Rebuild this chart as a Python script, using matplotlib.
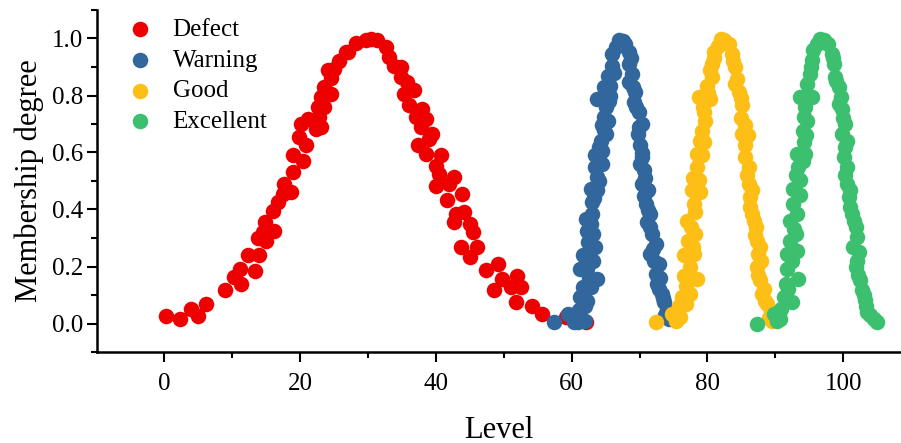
import numpy as np
import matplotlib

matplotlib.use('Agg')
import matplotlib.pyplot as plt
from matplotlib.ticker import MultipleLocator

# (level, membership degree)
defect_pts = [(0.3, 0.026), (2.3, 0.016), (4.0, 0.05), (5.0, 0.028), (6.2, 0.07), (8.9, 0.118),
              (10.3, 0.162), (11.2, 0.19), (11.3, 0.14), (12.3, 0.24), (13.4, 0.184), (14.0, 0.24),
              (13.8, 0.30), (14.5, 0.32), (14.8, 0.355), (15.0, 0.29), (16.2, 0.326), (16.0, 0.396),
              (16.7, 0.426), (17.5, 0.455), (17.7, 0.49), (18.7, 0.46), (18.9, 0.53), (18.9, 0.59),
              (20.4, 0.57), (19.9, 0.654), (20.9, 0.625), (20.1, 0.70), (21.1, 0.718), (22.4, 0.683),
              (23.1, 0.689), (22.8, 0.724), (22.6, 0.76), (23.6, 0.76), (23.1, 0.794), (23.6, 0.83),
              (24.6, 0.806), (24.6, 0.86), (25.0, 0.894), (24.1, 0.888), (25.8, 0.92), (26.8, 0.952),
              (27.0, 0.952), (28.2, 0.983), (29.7, 0.995), (30.5, 1.0), (31.4, 0.995), (32.6, 0.97),
              (33.1, 0.934), (33.9, 0.905), (34.9, 0.9), (34.9, 0.864), (35.8, 0.847), (36.8, 0.818),
              (35.3, 0.806), (36.1, 0.765), (38.0, 0.753), (37.1, 0.724), (38.5, 0.718), (37.8, 0.689),
              (39.5, 0.665), (39.0, 0.648), (37.3, 0.625), (38.5, 0.595), (40.7, 0.59), (40.0, 0.554),
              (40.5, 0.525), (42.7, 0.513), (40.0, 0.484), (42.0, 0.49), (43.9, 0.455), (41.7, 0.432),
              (42.9, 0.385), (44.2, 0.39), (42.7, 0.355), (45.1, 0.35), (45.4, 0.32), (43.7, 0.268),
              (46.1, 0.268), (45.1, 0.233), (47.4, 0.186), (49.1, 0.209), (49.8, 0.157), (48.6, 0.116),
              (52.0, 0.168), (51.0, 0.127), (52.5, 0.127), (51.8, 0.075), (54.2, 0.063), (55.7, 0.034),
              (59.1, 0.022), (62.1, 0.005)]

warning_pts = [(57.4, 0.005), (59.4, 0.034), (60.3, 0.005), (60.8, 0.02), (61.0, 0.005), (61.9, 0.01),
               (61.1, 0.046), (62.0, 0.06), (61.3, 0.092), (62.3, 0.08), (61.6, 0.127), (62.8, 0.127),
               (62.6, 0.16), (63.8, 0.157), (61.3, 0.19), (62.3, 0.19), (61.6, 0.24), (63.1, 0.22),
               (62.4, 0.285), (63.5, 0.268), (62.3, 0.326), (63.1, 0.315), (62.9, 0.35), (62.1, 0.367),
               (63.0, 0.385), (63.0, 0.426), (63.3, 0.44), (62.8, 0.472), (63.8, 0.467), (64.0, 0.50),
               (63.8, 0.513), (63.5, 0.548), (64.5, 0.56), (63.5, 0.59), (64.5, 0.607), (64.0, 0.62),
               (64.3, 0.642), (65.0, 0.665), (64.8, 0.68), (64.5, 0.695), (65.3, 0.712), (64.8, 0.724),
               (65.0, 0.76), (63.8, 0.788), (65.5, 0.782), (65.6, 0.80), (64.8, 0.83), (65.7, 0.835),
               (65.3, 0.87), (66.3, 0.88), (66.0, 0.905), (66.0, 0.946), (66.5, 0.97), (67.0, 0.993),
               (67.5, 0.99), (67.9, 0.98), (68.4, 0.952), (68.8, 0.93), (68.4, 0.911), (68.9, 0.876),
               (68.4, 0.847), (69.0, 0.83), (69.4, 0.812), (69.2, 0.776), (69.5, 0.76), (69.9, 0.741),
               (70.4, 0.70), (69.9, 0.69), (69.7, 0.665), (70.1, 0.625), (70.3, 0.60), (70.4, 0.584),
               (70.0, 0.56), (70.6, 0.537), (70.8, 0.51), (70.4, 0.49), (71.2, 0.47), (70.6, 0.449),
               (70.9, 0.42), (71.3, 0.40), (71.6, 0.385), (71.1, 0.355), (71.5, 0.34), (71.9, 0.315),
               (72.4, 0.28), (72.0, 0.26), (71.6, 0.245), (72.1, 0.22), (72.8, 0.209), (72.4, 0.174),
               (73.0, 0.16), (72.6, 0.139), (72.9, 0.12), (73.3, 0.104), (73.4, 0.09), (73.6, 0.075),
               (74.1, 0.046), (73.8, 0.03), (74.3, 0.016)]

good_pts = [(72.4, 0.005), (74.8, 0.034), (75.3, 0.01), (76.0, 0.022), (75.8, 0.06), (76.8, 0.069),
            (76.3, 0.092), (77.5, 0.104), (76.9, 0.13), (78.5, 0.157), (76.5, 0.168), (77.5, 0.198),
            (76.5, 0.24), (78.0, 0.245), (77.8, 0.27), (77.2, 0.29), (78.2, 0.315), (77.6, 0.34),
            (77.0, 0.361), (78.2, 0.39), (78.0, 0.42), (78.9, 0.46), (77.7, 0.467), (78.7, 0.502),
            (77.9, 0.51), (78.5, 0.548), (79.2, 0.59), (78.5, 0.595), (79.5, 0.636), (78.9, 0.64),
            (79.2, 0.677), (79.7, 0.712), (79.5, 0.741), (79.3, 0.76), (78.7, 0.794), (80.4, 0.788),
            (80.1, 0.81), (79.9, 0.835), (80.7, 0.864), (80.3, 0.89), (80.7, 0.911), (80.9, 0.93),
            (81.0, 0.952), (81.5, 0.975), (82.0, 0.998), (82.5, 0.995), (83.1, 0.98), (83.6, 0.946),
            (83.8, 0.92), (84.1, 0.9), (84.4, 0.859), (84.0, 0.84), (84.6, 0.812), (84.9, 0.79),
            (85.1, 0.765), (85.0, 0.72), (85.6, 0.695), (85.1, 0.665), (85.9, 0.66), (85.6, 0.625),
            (85.6, 0.584), (86.1, 0.548), (85.8, 0.52), (86.1, 0.49), (86.5, 0.47), (86.3, 0.443),
            (86.2, 0.41), (86.6, 0.385), (86.8, 0.36), (87.1, 0.338), (87.0, 0.31), (87.3, 0.29),
            (87.8, 0.27), (87.5, 0.245), (87.9, 0.22), (87.3, 0.198), (87.5, 0.17), (87.8, 0.151),
            (88.3, 0.12), (88.0, 0.104), (88.5, 0.08), (88.8, 0.069), (89.3, 0.04), (89.0, 0.02),
            (89.5, 0.01)]

excellent_pts = [(87.3, 0.0), (89.8, 0.034), (90.2, 0.01), (90.7, 0.016), (90.9, 0.05), (91.2, 0.092),
                 (92.5, 0.075), (91.9, 0.12), (91.5, 0.139), (93.4, 0.157), (91.7, 0.19), (92.5, 0.22),
                 (91.7, 0.245), (93.2, 0.256), (92.1, 0.29), (93.0, 0.315), (92.7, 0.33), (92.1, 0.361),
                 (93.2, 0.385), (92.6, 0.42), (93.6, 0.45), (92.6, 0.472), (93.7, 0.502), (93.0, 0.52),
                 (93.4, 0.548), (94.0, 0.57), (93.2, 0.595), (94.4, 0.595), (94.2, 0.636), (94.5, 0.66),
                 (94.0, 0.677), (94.7, 0.712), (94.2, 0.724), (94.3, 0.76), (93.7, 0.794), (95.4, 0.794),
                 (95.0, 0.80), (94.7, 0.841), (95.1, 0.876), (95.2, 0.90), (95.4, 0.923), (95.6, 0.958),
                 (96.1, 0.98), (96.6, 0.998), (97.2, 0.995), (97.8, 0.98), (98.3, 0.946), (98.5, 0.93),
                 (98.6, 0.911), (98.8, 0.864), (99.0, 0.85), (99.3, 0.83), (99.6, 0.794), (99.4, 0.77),
                 (99.8, 0.753), (100.0, 0.72), (100.3, 0.70), (99.8, 0.665), (100.6, 0.64), (100.3, 0.619),
                 (100.1, 0.584), (100.5, 0.548), (100.2, 0.52), (100.5, 0.49), (101.0, 0.47), (100.8, 0.443),
                 (101.0, 0.41), (101.3, 0.385), (101.6, 0.36), (101.8, 0.338), (102.0, 0.303), (101.5, 0.27),
                 (102.3, 0.25), (102.0, 0.22), (101.8, 0.198), (102.2, 0.17), (102.5, 0.151), (102.7, 0.116),
                 (103.0, 0.10), (103.2, 0.081), (103.3, 0.06), (103.5, 0.04), (104.0, 0.03), (104.5, 0.016),
                 (104.9, 0.005)]

labels = ['Defect', 'Warning', 'Good', 'Excellent']
colors = ['#EE0000', '#31679C', '#FDBE16', '#3CC06F']
series = [defect_pts, warning_pts, good_pts, excellent_pts]

plt.rcParams['font.family'] = ['Liberation Serif', 'DejaVu Serif']

fig = plt.figure(figsize=(9.01, 4.43), dpi=100)
ax = fig.add_axes([97 / 901, 1 - 352 / 443, 1 - 97 / 901, (352 - 10) / 443])

for pts, lab, col in zip(series, labels, colors):
    arr = np.array(pts)
    ax.scatter(arr[:, 0], arr[:, 1], s=125, color=col, linewidths=0, label=lab)

ax.set_xlim(-9.9, 108.5)
ax.set_ylim(-0.1, 1.1)
ax.xaxis.set_major_locator(MultipleLocator(20))
ax.xaxis.set_minor_locator(MultipleLocator(10))
ax.yaxis.set_major_locator(MultipleLocator(0.2))
ax.yaxis.set_minor_locator(MultipleLocator(0.1))
ax.yaxis.set_major_formatter(matplotlib.ticker.FormatStrFormatter('%.1f'))

for side in ['top', 'right']:
    ax.spines[side].set_visible(False)
for side in ['left', 'bottom']:
    ax.spines[side].set_linewidth(1.8)

ax.tick_params(which='major', direction='out', length=7, width=1.5, labelsize=18, pad=3)
ax.tick_params(which='minor', direction='out', length=4, width=1.5)
ax.tick_params(axis='x', which='major', pad=8)

ax.set_xlabel('Level', fontsize=22, labelpad=15)
ax.set_ylabel('Membership degree', fontsize=22, labelpad=6)

ax.legend(loc='upper left', bbox_to_anchor=(0.01, 1.005), frameon=False, fontsize=18,
          handletextpad=0.3, labelspacing=0.33, borderaxespad=0, scatterpoints=1)

fig.savefig('out.png', dpi=100)
